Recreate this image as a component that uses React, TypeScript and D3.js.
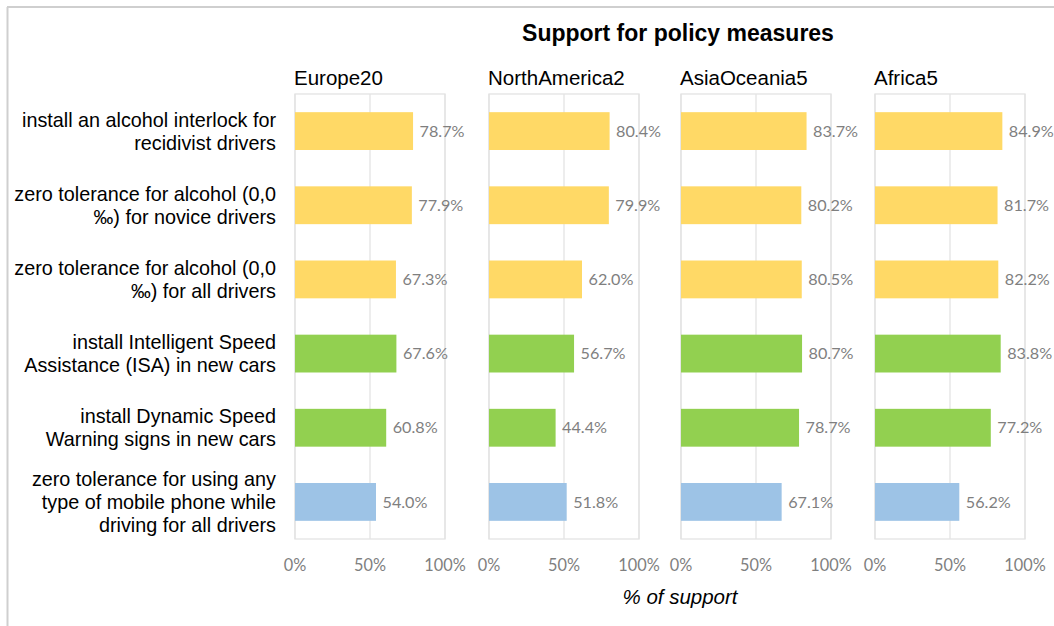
import { useEffect } from "react";
import * as d3 from "d3";

const W = 1054, H = 626;

const categories = [
  ["install an alcohol interlock for", "recidivist drivers"],
  ["zero tolerance for alcohol (0,0", "‰) for novice drivers"],
  ["zero tolerance for alcohol (0,0", "‰) for all drivers"],
  ["install Intelligent Speed", "Assistance (ISA) in new cars"],
  ["install Dynamic Speed", "Warning signs in new cars"],
  ["zero tolerance for using any", "type of mobile phone while", "driving for all drivers"],
];
const categoryGroup = ["alcohol", "alcohol", "alcohol", "speed", "speed", "phone"];
const groupColors: Record<string, string> = { alcohol: "#FFD966", speed: "#92D050", phone: "#9DC3E6" };

const regions = ["Europe20", "NorthAmerica2", "AsiaOceania5", "Africa5"];
const europe20 = [78.7, 77.9, 67.3, 67.6, 60.8, 54.0];
const northAmerica2 = [80.4, 79.9, 62.0, 56.7, 44.4, 51.8];
const asiaOceania5 = [83.7, 80.2, 80.5, 80.7, 78.7, 67.1];
const africa5 = [84.9, 81.7, 82.2, 83.8, 77.2, 56.2];
const seriesValues = [europe20, northAmerica2, asiaOceania5, africa5];
const ticks = [0, 50, 100];

const panelX = [295, 489, 681, 875];
const PW = 150, TOP = 94, BOTTOM = 539;

const labelFont = "'Liberation Sans', Arial, sans-serif";
const numFont = "Lato, 'Open Sans', sans-serif";

export default function App() {
  useEffect(() => {
    document.body.style.margin = "0";
  }, []);

  const y = d3.scaleBand<number>().domain(d3.range(categories.length)).range([TOP, BOTTOM]).paddingInner(0.49).paddingOuter(0.245);

  return (
    <svg width={W} height={H} style={{ display: "block", background: "#fff" }}>
      {/* frame edges */}
      <line x1={7} y1={7} x2={W} y2={7} stroke="#cfcfcf" strokeWidth={2} />
      <line x1={7.5} y1={7} x2={7.5} y2={H} stroke="#cfcfcf" strokeWidth={2} />

      <text x={678} y={41} textAnchor="middle" fontFamily={labelFont} fontSize={23} fontWeight="bold" fill="#000">
        Support for policy measures
      </text>

      {/* category labels */}
      {categories.map((lines, i) => {
        const cy = (y(i) ?? 0) + y.bandwidth() / 2;
        const lh = 23;
        const y0 = cy - ((lines.length - 1) * lh) / 2;
        return (
          <text key={i} textAnchor="end" fontFamily={labelFont} fontSize={19.8} fill="#000">
            {lines.map((l, j) => (
              <tspan key={j} x={276} y={y0 + j * lh} dy="0.35em">{l}</tspan>
            ))}
          </text>
        );
      })}

      {regions.map((r, p) => {
        const x = d3.scaleLinear().domain([0, 100]).range([panelX[p], panelX[p] + PW]);
        const vals = seriesValues[p];
        return (
          <g key={r}>
            <text x={panelX[p] - 1} y={85} fontFamily={labelFont} fontSize={20.5} fill="#000">{r}</text>
            <rect x={x(0)} y={TOP} width={x(100) - x(0)} height={BOTTOM - TOP} fill="none" stroke="#e3e3e3" strokeWidth={1.3} />
            {ticks.map((t) => (
              <g key={t}>
                <line x1={x(t)} x2={x(t)} y1={TOP} y2={BOTTOM} stroke="#e3e3e3" strokeWidth={1.3} />
                <text x={x(t)} y={565} dy="0.35em" textAnchor="middle" fontFamily={numFont} fontSize={16.3} fill="#7f7f7f">
                  {t}%
                </text>
              </g>
            ))}
            {vals.map((v, i) => (
              <g key={i}>
                <rect x={x(0)} y={y(i)} width={x(v) - x(0)} height={y.bandwidth()} fill={groupColors[categoryGroup[i]]} />
                <text x={x(v) + 6.5} y={(y(i) ?? 0) + y.bandwidth() / 2} dy="0.35em" fontFamily={numFont} fontSize={16.2} fill="#7f7f7f">
                  {v.toFixed(1)}%
                </text>
              </g>
            ))}
          </g>
        );
      })}

      <text x={680} y={604} textAnchor="middle" fontFamily={labelFont} fontSize={20.5} fontStyle="italic" fill="#000">
        % of support
      </text>
    </svg>
  );
}
